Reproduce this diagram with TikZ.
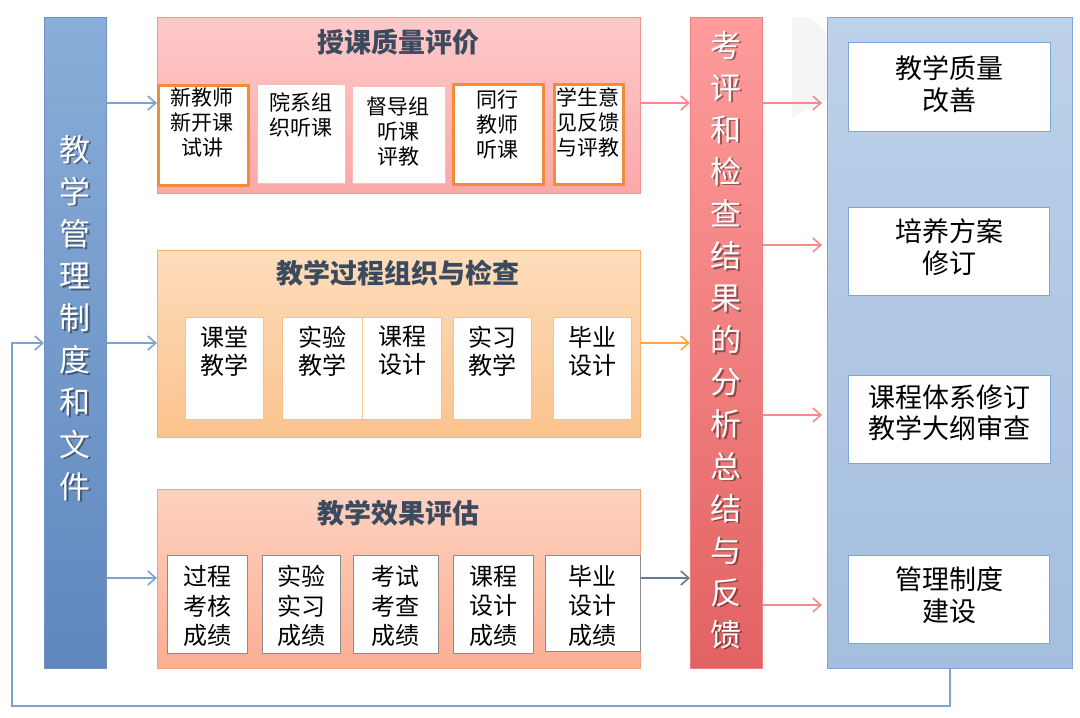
\documentclass[tikz,border=0pt]{standalone}
\usepackage{fontspec}
\usetikzlibrary{arrows.meta}
\newfontfamily\cjk{Noto Sans CJK SC}
\definecolor{lbT}{HTML}{8AAED9}
\definecolor{lbB}{HTML}{5F87BD}
\definecolor{lbD}{HTML}{6C92C4}
\definecolor{g1T}{HTML}{FFC9C9}
\definecolor{g1B}{HTML}{FCA8A8}
\definecolor{g1D}{HTML}{F49191}
\definecolor{g2T}{HTML}{FDDDBB}
\definecolor{g2B}{HTML}{FBC38D}
\definecolor{g2D}{HTML}{F7B26A}
\definecolor{g3T}{HTML}{FDD2C0}
\definecolor{g3B}{HTML}{FBAE92}
\definecolor{g3D}{HTML}{F6A07B}
\definecolor{rbT}{HTML}{FF9C9C}
\definecolor{rbB}{HTML}{E26262}
\definecolor{rbD}{HTML}{F08080}
\definecolor{rpT}{HTML}{BDD1E9}
\definecolor{rpB}{HTML}{A4BEDF}
\definecolor{rpD}{HTML}{7FA5D6}
\definecolor{orB}{HTML}{F28C3A}
\definecolor{ttl}{HTML}{3B4A5E}
\definecolor{arB}{HTML}{7BA3D3}
\definecolor{arP}{HTML}{F28B8B}
\definecolor{arO}{HTML}{F6A650}
\definecolor{arG}{HTML}{6B7B8C}
\tikzset{
  panel/.style={anchor=north west, inner sep=0pt, line width=1pt},
  ibox/.style={anchor=north west, inner sep=0pt, fill=white, line width=1pt},
  obox/.style={ibox, draw=orB, line width=2.8pt},
  ttxt/.style={font=\cjk\bfseries\fontsize{27}{30}\selectfont, text=ttl},
  t1/.style={font=\cjk\fontsize{21}{25}\selectfont, align=center, inner sep=0pt},
  t2/.style={font=\cjk\fontsize{24}{28}\selectfont, align=center, inner sep=0pt},
  t3/.style={font=\cjk\fontsize{24}{29.5}\selectfont, align=center, inner sep=0pt},
  t4/.style={font=\cjk\fontsize{27}{31.5}\selectfont, align=center, inner sep=0pt},
  bart/.style={font=\cjk\fontsize{31}{42.1}\selectfont, align=center, inner sep=0pt, text=white},
  bars/.style={bart, text=black, opacity=0.4},
  arr/.style={-{Straight Barb[length=8pt,width=14pt,line width=1.6pt]}, line width=1.6pt},
}
\begin{document}
\begin{tikzpicture}[x=1pt,y=-1pt]
\useasboundingbox[fill=white] (0,0) rectangle (1080,718);
% faint shape
\fill[black!4] (792,17) -- (810,17) -- (827,33) -- (827,100) -- (792,117) -- cycle;
% left bar
\node[panel, draw=lbD, top color=lbT, bottom color=lbB, minimum width=62pt, minimum height=651pt] (lb) at (44,17) {};
\node[bars] (lbs) at (76.5,319.5) {教\\学\\管\\理\\制\\度\\和\\文\\件};
\node[bart] (lbt) at (75,318) {教\\学\\管\\理\\制\\度\\和\\文\\件};
% group 1
\node[panel, draw=g1D, top color=g1T, bottom color=g1B, minimum width=483pt, minimum height=176pt] (g1) at (157,17) {};
\node[ttxt] (g1t) at (398,42) {授课质量评价};
\node[obox, minimum width=90pt, minimum height=100pt] (a1) at (157,84) {};
\node[ibox, draw=g1D!60, minimum width=88pt, minimum height=99pt] (a2) at (257,84) {};
\node[ibox, draw=g1D!60, minimum width=93pt, minimum height=97pt] (a3) at (352,86) {};
\node[obox, minimum width=90pt, minimum height=100pt] (a4) at (452,83) {};
\node[obox, minimum width=69pt, minimum height=100pt] (a5) at (553,83) {};
\node[t1] (a1t) at (202,122) {新教师\\新开课\\试讲};
\node[t1] (a2t) at (301,115) {院系组\\织听课};
\node[t1] (a3t) at (398,132) {督导组\\听课\\评教};
\node[t1] (a4t) at (497,124) {同行\\教师\\听课};
\node[t1] (a5t) at (588,122) {学生意\\见反馈\\与评教};
% group 2
\node[panel, draw=g2D, top color=g2T, bottom color=g2B, minimum width=483pt, minimum height=187pt] (g2) at (157,250) {};
\node[ttxt] (g2t) at (398,273) {教学过程组织与检查};
\node[ibox, draw=g2D!80, minimum width=78pt, minimum height=102pt] (b1) at (185,317) {};
\node[ibox, draw=g2D!80, minimum width=80pt, minimum height=102pt] (b2) at (282,317) {};
\node[ibox, draw=g2D!80, minimum width=79pt, minimum height=102pt] (b3) at (362,317) {};
\node[ibox, draw=g2D!80, minimum width=78pt, minimum height=102pt] (b4) at (453,317) {};
\node[ibox, draw=g2D!80, minimum width=78pt, minimum height=102pt] (b5) at (553,317) {};
\node[t2] (b1t) at (224,351) {课堂\\教学};
\node[t2] (b2t) at (322,351) {实验\\教学};
\node[t2] (b3t) at (402,351) {课程\\设计};
\node[t2] (b4t) at (492,351) {实习\\教学};
\node[t2] (b5t) at (592,351) {毕业\\设计};
% group 3
\node[panel, draw=g3D, top color=g3T, bottom color=g3B, minimum width=483pt, minimum height=179pt] (g3) at (157,489) {};
\node[ttxt] (g3t) at (398,513) {教学效果评估};
\node[ibox, draw=black!45, minimum width=80pt, minimum height=98pt] (c1) at (167,555) {};
\node[ibox, draw=black!45, minimum width=78pt, minimum height=98pt] (c2) at (262,555) {};
\node[ibox, draw=black!45, minimum width=85pt, minimum height=98pt] (c3) at (353,555) {};
\node[ibox, draw=black!45, minimum width=80pt, minimum height=98pt] (c4) at (453,555) {};
\node[ibox, draw=black!45, minimum width=95pt, minimum height=96pt] (c5) at (545,555) {};
\node[t3] (c1t) at (207,606) {过程\\考核\\成绩};
\node[t3] (c2t) at (301,606) {实验\\实习\\成绩};
\node[t3] (c3t) at (395,606) {考试\\考查\\成绩};
\node[t3] (c4t) at (493,606) {课程\\设计\\成绩};
\node[t3] (c5t) at (592,606) {毕业\\设计\\成绩};
% red bar
\node[panel, draw=rbD, top color=rbT, bottom color=rbB, minimum width=72pt, minimum height=651pt] (rb) at (690,17) {};
\node[bars] (rbs) at (727.5,341.5) {考\\评\\和\\检\\查\\结\\果\\的\\分\\析\\总\\结\\与\\反\\馈};
\node[bart] (rbt) at (726,340) {考\\评\\和\\检\\查\\结\\果\\的\\分\\析\\总\\结\\与\\反\\馈};
% right panel
\node[panel, draw=rpD, top color=rpT, bottom color=rpB, minimum width=245pt, minimum height=651pt] (rp) at (827,17) {};
\node[ibox, draw=rpD, minimum width=202pt, minimum height=89pt] (d1) at (848,42) {};
\node[ibox, draw=rpD, minimum width=201pt, minimum height=88pt] (d2) at (848,207) {};
\node[ibox, draw=rpD, minimum width=202pt, minimum height=88pt] (d3) at (848,375) {};
\node[ibox, draw=rpD, minimum width=201pt, minimum height=88pt] (d4) at (848,555) {};
\node[t4] (d1t) at (949,84) {教学质量\\改善};
\node[t4] (d2t) at (949,247) {培养方案\\修订};
\node[t4] (d3t) at (949,413) {课程体系修订\\教学大纲审查};
\node[t4] (d4t) at (949,595) {管理制度\\建设};
% coordinates
\coordinate (ya) at (0,103);
\coordinate (yb) at (0,343);
\coordinate (yc) at (0,578);
\coordinate (fa) at (950,706);
\coordinate (fb) at (12,706);
\coordinate (fc) at (12,343);
\coordinate (r1) at (822,103);
\coordinate (r2) at (822,245);
\coordinate (r3) at (822,415);
\coordinate (r4) at (822,605);
% arrows from left bar
\draw[arr, arB] (lb.east |- ya) -- (g1.west |- ya);
\draw[arr, arB] (lb.east |- yb) -- (g2.west |- yb);
\draw[arr, arB] (lb.east |- yc) -- (g3.west |- yc);
% arrows into red bar
\draw[arr, arP] (g1.east |- ya) -- (rb.west |- ya);
\draw[arr, arO] (g2.east |- yb) -- (rb.west |- yb);
\draw[arr, arG] (g3.east |- yc) -- (rb.west |- yc);
% arrows to right panel
\draw[arr, arP] (rb.east |- r1) -- (r1);
\draw[arr, arP] (rb.east |- r2) -- (r2);
\draw[arr, arP] (rb.east |- r3) -- (r3);
\draw[arr, arP] (rb.east |- r4) -- (r4);
% feedback loop
\draw[arr, arB] (rp.south -| fa) -- (fa) -- (fb) -- (fc) -- (lb.west |- fc);
\end{tikzpicture}
\end{document}
